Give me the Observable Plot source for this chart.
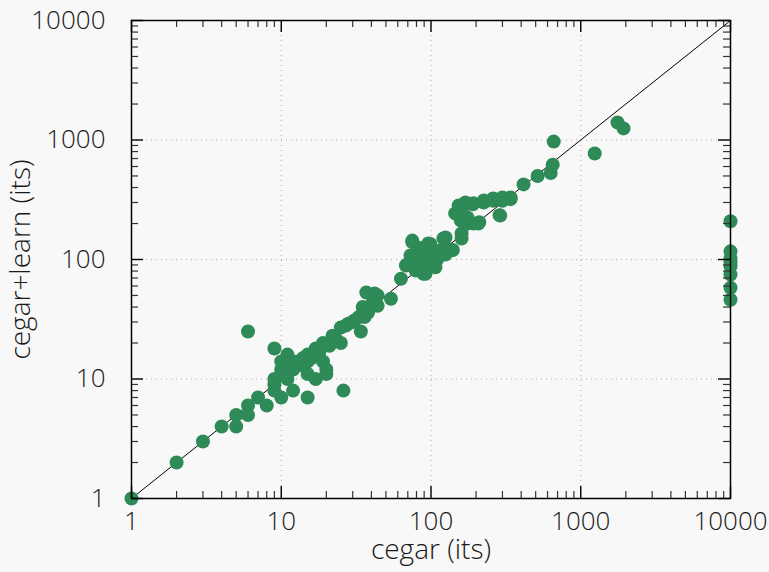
<!DOCTYPE html>
<html><head><meta charset="utf-8">
<script src="https://cdn.jsdelivr.net/npm/d3@7"></script>
<script src="https://cdn.jsdelivr.net/npm/@observablehq/plot@0.6"></script>
<style>
html,body{margin:0;padding:0;background:#f8f8f8;}
</style></head><body><div id="chart"></div>
<script>
const cegar = [
  1,2,3,4,5,5,6,6,6,7,8,9,9,9,9,10,10,10,10,11,11,11,12,12,12,13,13,14,14,15,15,15,15,16,17,17,18,19,19,20,20,21,22,23,25,25,26,27,28,30,31,33,34,35,36,37,38,41,42,44,44,54,
  63,68,71,73,75,75,79,79,82,83,85,88,89,90,92,92,95,96,99,100,100,102,104,107,110,112,116,121,125,128,135,140,
  125,145,150,153,158,160,160,165,170,175,175,190,192,192,207,210,225,225,260,260,287,290,300,300,340,340,415,515,630,650,660,1240,1760,1930,
  10000,10000,10000,10000,10000,10000,10000,10000
];
const cegarLearn = [
  1,2,3,4,5,4,6,5,25,7,6,18,10,9,8,7,14,12,11,16,13,10,14,8,12,14,13,15,13,16,14,11,7,15,18,10,17,20,14,12,11,19,23,22,20,27,8,28,29,30,31,33,25,40,33,53,36,45,52,50,41,47,
  69,89,93,108,144,140,93,81,112,100,125,89,76,115,98,76,105,136,135,95,110,119,102,86,100,108,119,150,110,124,119,120,
  153,243,240,283,212,150,165,280,300,225,200,290,200,295,200,205,300,312,310,324,235,233,310,330,320,330,425,500,530,620,970,770,1400,1250,
  209,117,102,95,88,75,58,46
];
const majorTicks = [1, 10, 100, 1000, 10000];
const gridTicks = [10, 100, 1000];
const minorMultipliers = [2, 3, 4, 5, 6, 7, 8, 9];
const diagonal = [1, 10000];
const xLabel = "cegar (its)";
const yLabel = "cegar+learn (its)";

const points = cegar.map((x, i) => ({x, y: cegarLearn[i]}));
const minorTicks = majorTicks.slice(0, -1).flatMap(d => minorMultipliers.map(m => d * m));

const W = 769, H = 572, ML = 131, MR = 39, MT = 20, MB = 74;
const PW = W - ML - MR, PH = H - MT - MB;
const MAJ = 12, MIN = 7;

// inward ticks on all four sides: frame-spanning rules cut down by insets
function sideTicks(values, len, color, sw) {
  return [
    Plot.ruleX(values, {x: d => d, insetTop: PH - len, stroke: color, strokeWidth: sw}),
    Plot.ruleX(values, {x: d => d, insetBottom: PH - len, stroke: color, strokeWidth: sw}),
    Plot.ruleY(values, {y: d => d, insetRight: PW - len, stroke: color, strokeWidth: sw}),
    Plot.ruleY(values, {y: d => d, insetLeft: PW - len, stroke: color, strokeWidth: sw})
  ];
}

const chart = Plot.plot({
  width: W, height: H,
  marginLeft: ML, marginRight: MR, marginTop: MT, marginBottom: MB,
  style: {background: "#f8f8f8", fontFamily: "'Open Sans', Lato, sans-serif", fontWeight: 300, fontSize: "26px", color: "#1a1a1a"},
  x: {type: "log", domain: [1, 10000]},
  y: {type: "log", domain: [1, 10000]},
  marks: [
    Plot.gridX(gridTicks, {stroke: "#999", strokeOpacity: 0.8, strokeDasharray: "1,4"}),
    Plot.gridY(gridTicks, {stroke: "#999", strokeOpacity: 0.8, strokeDasharray: "1,4"}),
    Plot.line(diagonal, {x: d => d, y: d => d, stroke: "#000", strokeWidth: 1}),
    Plot.dot(points, {x: "x", y: "y", r: 7, fill: "#2e8b57", stroke: null}),
    ...sideTicks(minorTicks, MIN, "#333", 1.2),
    ...sideTicks(majorTicks, MAJ, "#000", 1.4),
    Plot.frame({stroke: "#000", strokeWidth: 1.5}),
    Plot.axisX(majorTicks, {anchor: "bottom", tickSize: 0, tickPadding: 13, tickFormat: d => String(d), label: null, fill: "#1a1a1a"}),
    Plot.axisY(majorTicks, {anchor: "left", tickSize: 0, tickPadding: 26, tickFormat: d => String(d), label: null, fill: "#1a1a1a"}),
    Plot.text([xLabel], {frameAnchor: "bottom", textAnchor: "middle", dy: 60, fontSize: 28, text: d => d, fill: "#1a1a1a"}),
    Plot.text([yLabel], {frameAnchor: "left", textAnchor: "middle", dx: -110, rotate: -90, fontSize: 28, text: d => d, fill: "#1a1a1a"})
  ]
});
document.getElementById("chart").appendChild(chart);
</script>
</body></html>
